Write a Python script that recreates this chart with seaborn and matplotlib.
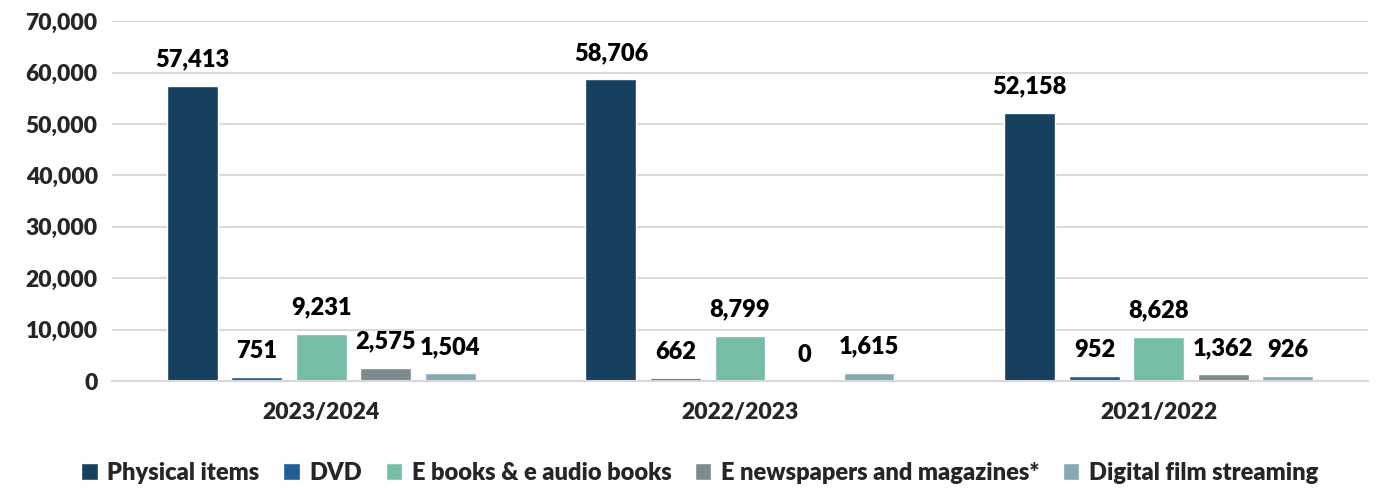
import matplotlib
matplotlib.use("Agg")
import matplotlib.pyplot as plt
import seaborn as sns
import pandas as pd
from matplotlib.ticker import FuncFormatter

years = ["2023/2024", "2022/2023", "2021/2022"]
series = ["Physical items", "DVD", "E books & e audio books",
          "E newspapers and magazines*", "Digital film streaming"]
physical = [57413, 58706, 52158]
dvd = [751, 662, 952]
ebooks = [9231, 8799, 8628]
enews = [2575, 0, 1362]
streaming = [1504, 1615, 926]
colors = ["#16405F", "#1F5F94", "#76BDA6", "#7B8B8E", "#85AAB5"]

rows = []
for s, vals in zip(series, [physical, dvd, ebooks, enews, streaming]):
    for y, v in zip(years, vals):
        rows.append({"year": y, "series": s, "value": v})
df = pd.DataFrame(rows)

sns.set_style("white")
plt.rcParams['font.family'] = ['Lato', 'DejaVu Sans']
plt.rcParams['font.weight'] = 'heavy'
W = 'heavy'

fig, ax = plt.subplots(figsize=(13.78, 4.9), dpi=100)
fig.subplots_adjust(left=0.081, right=0.993, top=0.957, bottom=0.222)

sns.barplot(data=df, x="year", y="value", hue="series", order=years,
            hue_order=series, palette=colors, width=0.77, gap=0.21,
            saturation=1, ax=ax, legend=True, errorbar=None)

for cont in ax.containers:
    ax.bar_label(cont, labels=[f"{int(v):,}" for v in cont.datavalues],
                 padding=11, fontsize=17, fontweight=W, color='black')

ax.set_ylim(0, 70000)
ax.set_yticks(range(0, 70001, 10000))
ax.yaxis.set_major_formatter(FuncFormatter(lambda v, p: f"{int(v):,}"))
ax.grid(axis='y', color='#D9D9D9', linewidth=1.5)
ax.set_axisbelow(True)
for sp in ["left", "right", "top"]:
    ax.spines[sp].set_visible(False)
ax.spines["bottom"].set_color('#D9D9D9')
ax.spines["bottom"].set_linewidth(1.5)
ax.tick_params(axis='both', length=0, labelsize=16.5)
ax.tick_params(axis='x', pad=15)
ax.tick_params(axis='y', pad=10)
plt.setp(ax.get_xticklabels(), fontweight=W)
plt.setp(ax.get_yticklabels(), fontweight=W)
ax.set_xlabel("")
ax.set_ylabel("")

ax.legend(loc='upper center', bbox_to_anchor=(0.468, -0.165), ncol=5,
          frameon=False, handlelength=0.7, handleheight=0.7,
          handletextpad=0.4, columnspacing=1.0,
          prop={'weight': W, 'size': 17})

fig.savefig("out.png", dpi=100)
